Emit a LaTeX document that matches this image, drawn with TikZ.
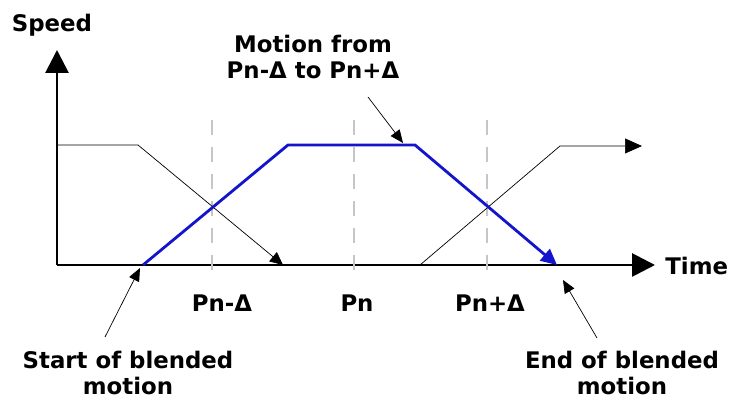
\documentclass[tikz,border=0pt]{standalone}
\usepackage{fontspec}
\setmainfont{DejaVu Sans}
\usetikzlibrary{arrows.meta}
\definecolor{motionblue}{RGB}{20,20,205}
\tikzset{
  lbl/.style={font=\fontsize{13}{15}\selectfont\bfseries, align=center, inner sep=0pt},
  axis/.style={line width=1.6pt, -{Triangle[length=0.46cm,width=0.46cm]}},
  guide/.style={gray!45, line width=1.2pt, dash pattern=on 0.3cm off 0.24cm},
  pointer/.style={thin, -{Triangle[length=0.26cm,width=0.22cm]}}
}
\begin{document}
\begin{tikzpicture}
\useasboundingbox (0,0) rectangle (14.72,8.12);
% axes
\coordinate (o) at (1.14,2.82);
\coordinate (ytop) at (1.14,7.12);
\coordinate (xend) at (13.1,2.82);
\draw[axis] (o) -- (ytop);
\draw[axis] (o) -- (xend);
\node[lbl] (speed) at (1.04,7.62) {Speed};
\node[lbl,anchor=west] (time) at (13.3,2.8) {Time};
% guide lines at Pn-D, Pn, Pn+D
\foreach \x/\n in {4.24/a,7.08/b,9.74/c}
  \draw[guide] (\x,5.72) coordinate (g\n top) -- (\x,2.62) coordinate (g\n bot);
\node[lbl] (pnm) at (4.44,2.06) {Pn-Δ};
\node[lbl] (pn) at (7.14,2.06) {Pn};
\node[lbl] (pnp) at (9.8,2.06) {Pn+Δ};
% previous motion
\coordinate (p1) at (1.14,5.22);
\coordinate (p2) at (2.76,5.22);
\coordinate (p3) at (5.66,2.82);
\draw[thin,-{Triangle[length=0.26cm,width=0.24cm]}] (p1) -- (p2) -- (p3);
% next motion
\coordinate (n1) at (8.4,2.82);
\coordinate (n2) at (11.2,5.2);
\coordinate (n3) at (12.84,5.2);
\draw[thin,-{Triangle[length=0.34cm,width=0.3cm]}] (n1) -- (n2) -- (n3);
% blended motion
\coordinate (b1) at (2.86,2.82);
\coordinate (b2) at (5.76,5.22);
\coordinate (b3) at (8.3,5.22);
\coordinate (b4) at (11.14,2.82);
\draw[motionblue,line width=1.6pt,-{Triangle[length=0.32cm,width=0.3cm]}] (b1) -- (b2) -- (b3) -- (b4);
% labels with pointers
\node[lbl] (motion) at (6.26,6.98) {Motion from\\Pn-Δ to Pn+Δ};
\coordinate (mfrom) at (7.36,6.18);
\coordinate (mto) at (8.06,5.26);
\draw[pointer] (mfrom) -- (mto);
\node[lbl] (start) at (2.56,0.66) {Start of blended\\motion};
\coordinate (sfrom) at (2.1,1.38);
\coordinate (sto) at (2.8,2.76);
\draw[pointer] (sfrom) -- (sto);
\node[lbl] (end) at (12.44,0.66) {End of blended\\motion};
\coordinate (efrom) at (11.94,1.36);
\coordinate (eto) at (11.26,2.52);
\draw[pointer] (efrom) -- (eto);
\end{tikzpicture}
\end{document}
